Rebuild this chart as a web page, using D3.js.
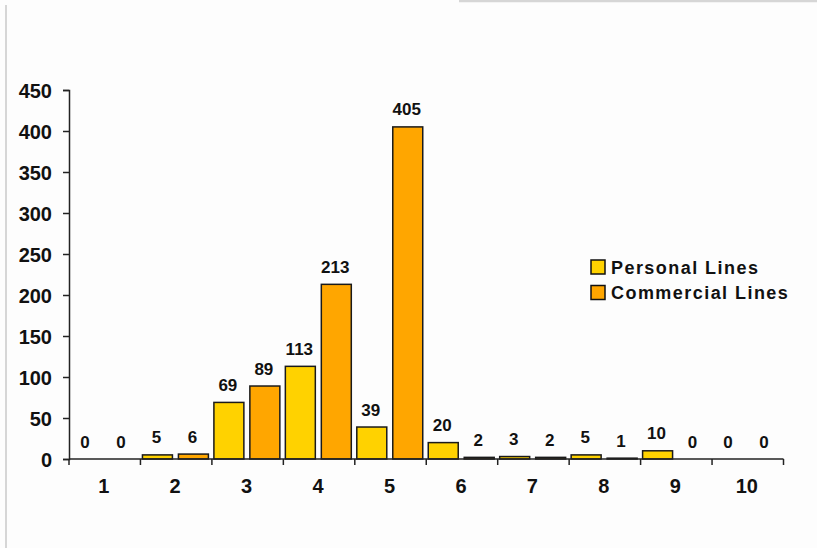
<!DOCTYPE html>
<html>
<head>
<meta charset="utf-8">
<script src="https://cdn.jsdelivr.net/npm/d3@7"></script>
<style>
  body { margin: 0; background: #fdfdfd; }
  svg { display: block; font-family: "Liberation Sans", Arial, sans-serif; }
  .bar { stroke: #1a1a1a; stroke-width: 1.5; }
  .val { font-size: 17px; font-weight: bold; fill: #111; text-anchor: middle; }
  .axis-lbl { font-size: 20px; font-weight: bold; fill: #111; }
  .legend-lbl { font-size: 18px; font-weight: bold; fill: #111; letter-spacing: 1.45px; }
</style>
</head>
<body>
<svg class="chart"></svg>
<script>
// categories along the x axis
const categories = ['1', '2', '3', '4', '5', '6', '7', '8', '9', '10']

// series names and values, one per category
const seriesNames = ['Personal Lines', 'Commercial Lines']
const personalLines = [0, 5, 69, 113, 39, 20, 3, 5, 10, 0]
const commercialLines = [0, 6, 89, 213, 405, 2, 2, 1, 0, 0]

// y axis ticks
const yTicks = [0, 50, 100, 150, 200, 250, 300, 350, 400, 450]

const colors = ['#FFD200', '#FFA600']

const draw = () => {

    const width = 817
    const height = 548

    const svg = d3.select('.chart')
        .attr('width', width)
        .attr('height', height)

    // light frame lines, like the cropped screenshot
    svg.append('line')
        .attr('x1', 6).attr('x2', 6).attr('y1', 5).attr('y2', height)
        .attr('stroke', '#d6d6d6').attr('stroke-width', 2)
    svg.append('line')
        .attr('x1', 459).attr('x2', width).attr('y1', 1).attr('y2', 1)
        .attr('stroke', '#d6d6d6').attr('stroke-width', 2.5)

    const plot = { left: 69, right: 783.5, top: 90, bottom: 459 }

    const x = d3.scaleBand()
        .domain(categories)
        .range([ plot.left, plot.right ])
        .padding(0)

    // series within a category: bars ~30px wide with a ~6px gap
    const xs = d3.scaleBand()
        .domain(seriesNames)
        .range([ 2, x.bandwidth() - 3.5 ])
        .paddingInner(0.1667)
        .paddingOuter(0)

    const y = d3.scaleLinear()
        .domain([ 0, 450 ])
        .range([ plot.bottom, plot.top ])

    const rows = categories.map((c, i) => ({
        cat: c,
        values: [ personalLines[i], commercialLines[i] ]
    }))

    // bars
    const groups = svg.selectAll('g.cat')
        .data(rows)
        .enter()
        .append('g')
        .attr('class', 'cat')
        .attr('transform', d => `translate(${x(d.cat)},0)`)

    groups.selectAll('rect')
        .data(d => d.values.map((v, j) => ({ name: seriesNames[j], v, j })))
        .enter()
        .append('rect')
        .attr('class', 'bar')
        .attr('x', d => xs(d.name))
        .attr('width', xs.bandwidth())
        .attr('y', d => y(d.v))
        .attr('height', d => y(0) - y(d.v))
        .attr('fill', d => colors[d.j])

    groups.selectAll('text')
        .data(d => d.values.map((v, j) => ({ name: seriesNames[j], v })))
        .enter()
        .append('text')
        .attr('class', 'val')
        .attr('x', d => xs(d.name) + xs.bandwidth() / 2 - 1)
        .attr('y', d => y(d.v) - 11.5)
        .text(d => d.v)

    // y axis
    const yAxis = d3.axisLeft(y)
        .tickValues(yTicks)
        .tickSize(6)
        .tickPadding(11)

    const gy = svg.append('g')
        .attr('transform', `translate(${plot.left},0)`)
        .call(yAxis)
    gy.select('.domain').attr('stroke', '#222').attr('stroke-width', 1.5)
    gy.selectAll('.tick line').attr('stroke', '#222').attr('stroke-width', 1.5)
    gy.selectAll('.tick text')
        .attr('class', 'axis-lbl')
        .attr('dy', '0.36em')
        .style('font-family', null).style('font-size', null)

    // x axis: ticks sit on the category boundaries
    const gx = svg.append('g')
        .attr('transform', `translate(0,${plot.bottom})`)

    gx.append('line')
        .attr('x1', plot.left).attr('x2', plot.right)
        .attr('stroke', '#222').attr('stroke-width', 1.5)

    const bounds = categories.map(c => x(c)).concat([ plot.right ])
    gx.selectAll('line.tk')
        .data(bounds)
        .enter()
        .append('line')
        .attr('class', 'tk')
        .attr('x1', d => d).attr('x2', d => d)
        .attr('y1', 0).attr('y2', 6)
        .attr('stroke', '#222').attr('stroke-width', 1.5)

    gx.selectAll('text')
        .data(categories)
        .enter()
        .append('text')
        .attr('class', 'axis-lbl')
        .attr('text-anchor', 'middle')
        .attr('x', d => x(d) + x.bandwidth() / 2 - 1)
        .attr('y', 34)
        .text(d => d)

    // legend
    const legend = svg.append('g')
        .attr('transform', 'translate(591,260)')

    const item = legend.selectAll('g')
        .data(seriesNames)
        .enter()
        .append('g')
        .attr('transform', (d, i) => `translate(0,${i * 25.5})`)

    item.append('rect')
        .attr('width', 14)
        .attr('height', 14)
        .attr('fill', (d, i) => colors[i])
        .attr('stroke', '#111')
        .attr('stroke-width', 1.5)

    item.append('text')
        .attr('class', 'legend-lbl')
        .attr('x', 20)
        .attr('y', 13.5)
        .text(d => d)
}

draw()
</script>
</body>
</html>
